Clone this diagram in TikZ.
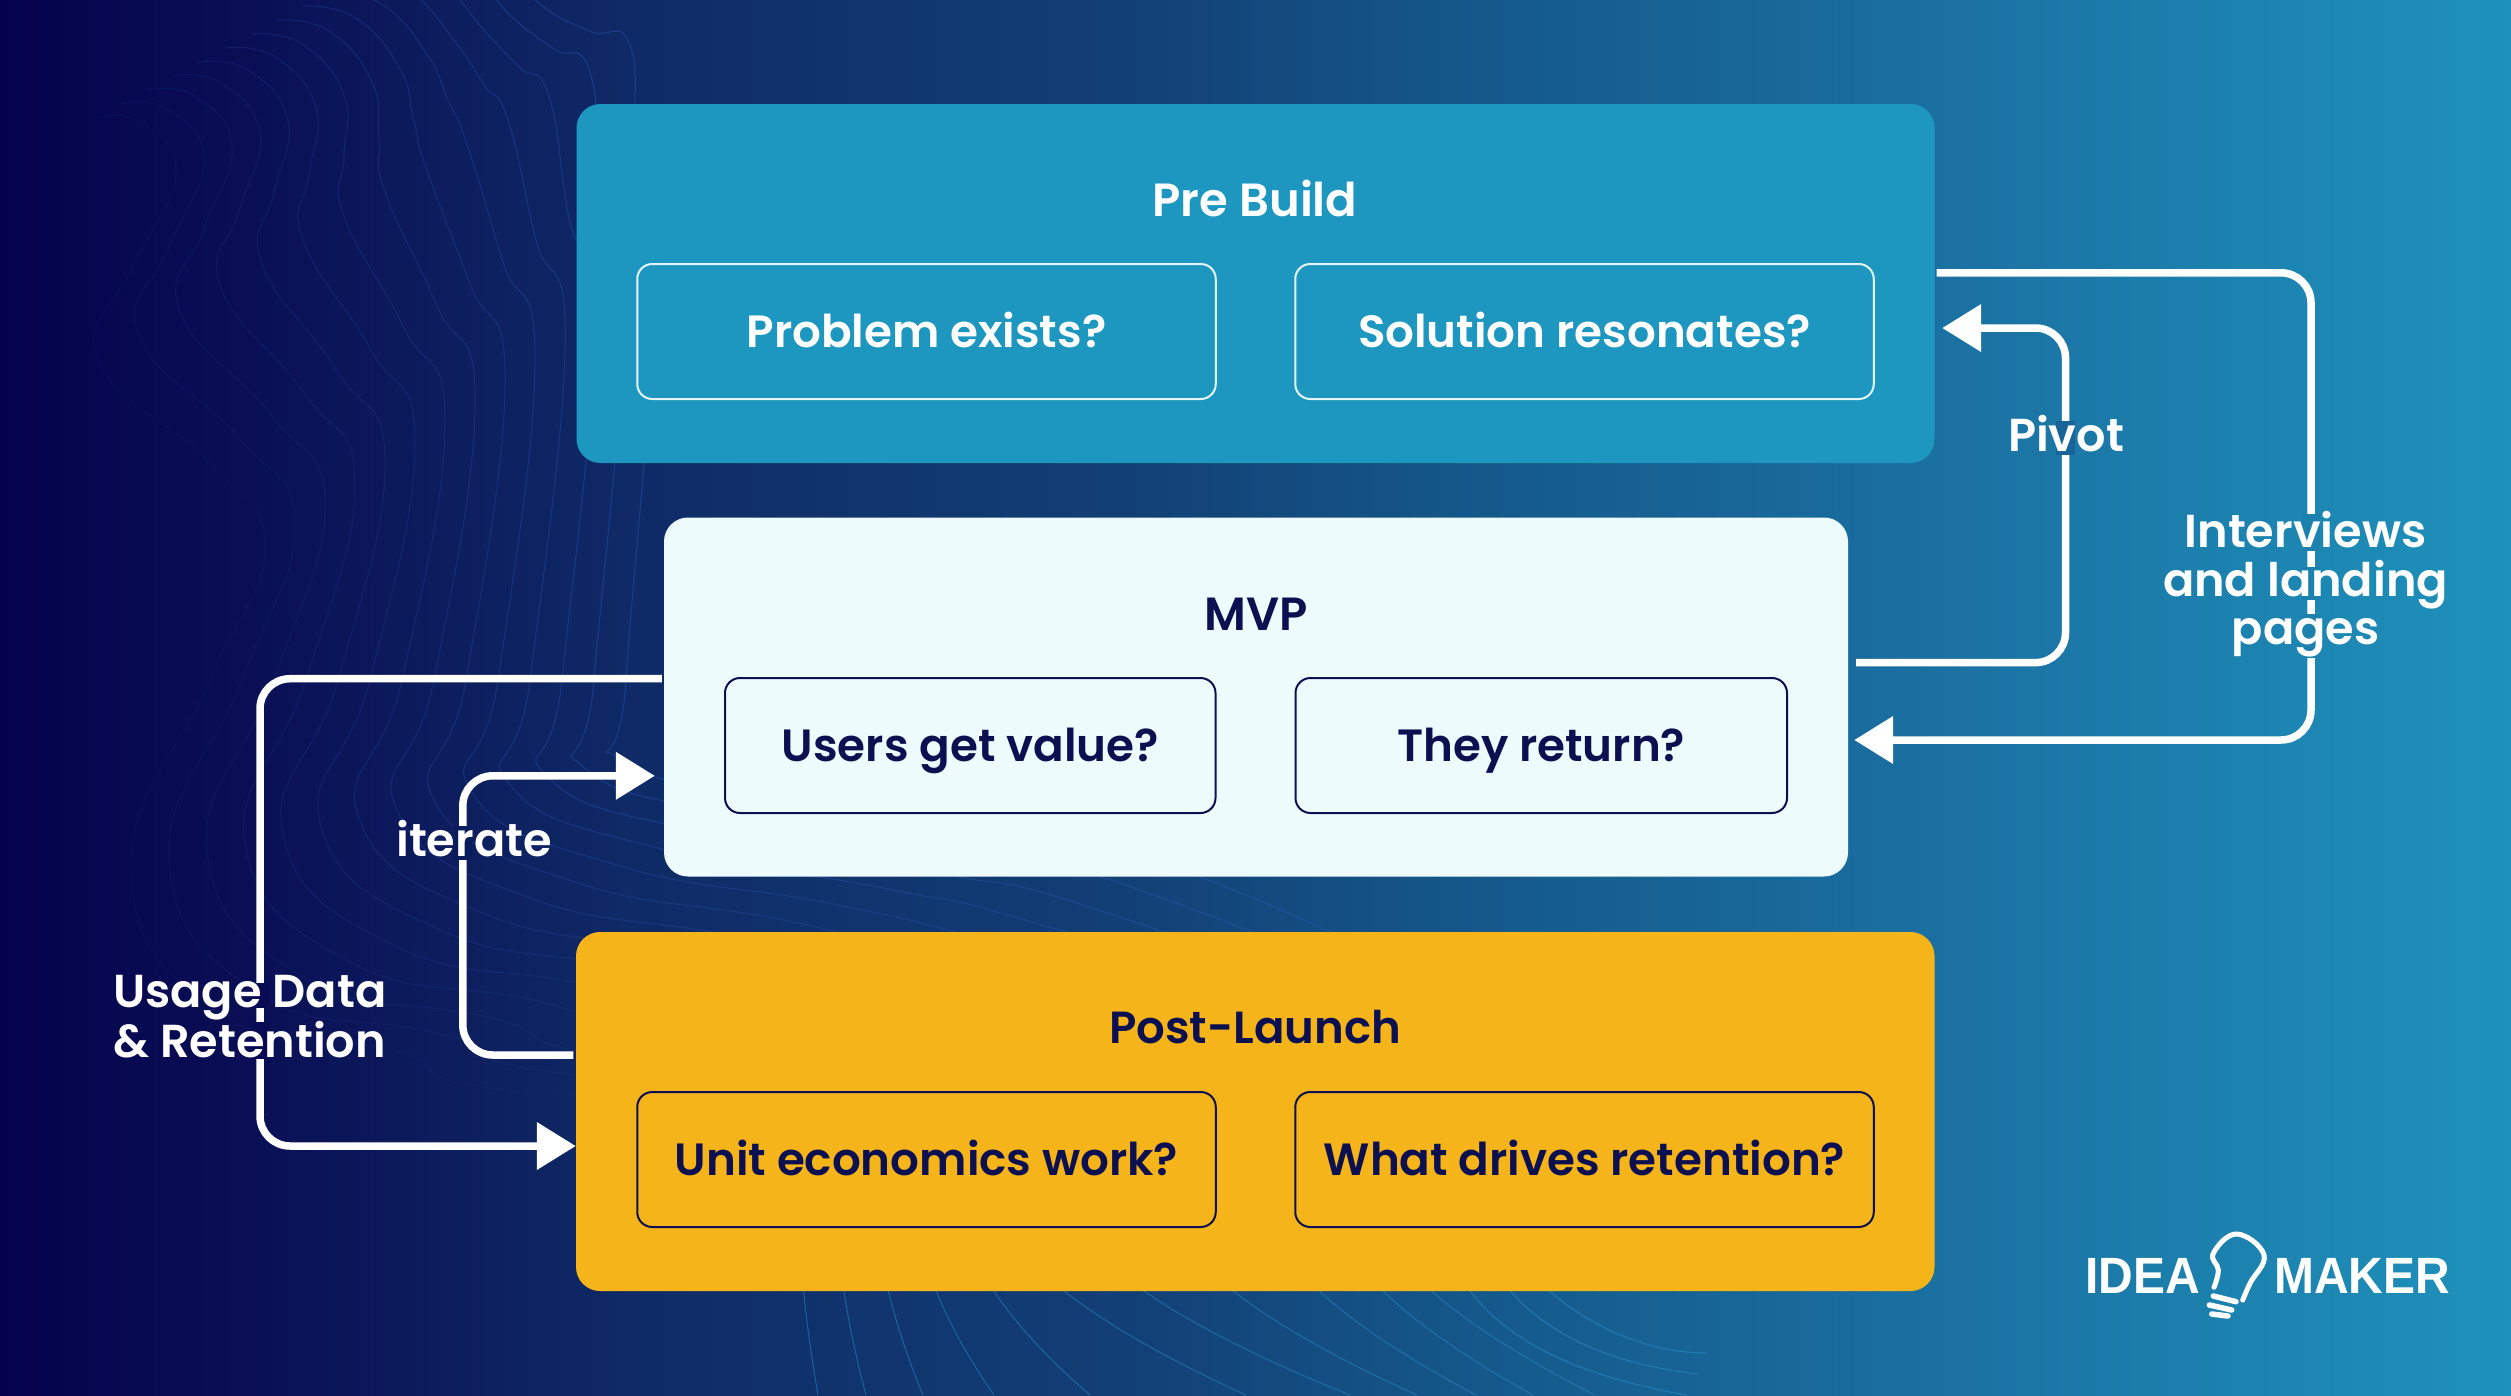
\documentclass[tikz,border=0pt]{standalone}
\usepackage{fontspec}
\usetikzlibrary{arrows.meta}
\setmainfont{Poppins}[UprightFont={* SemiBold},BoldFont={* Bold}]
\newfontfamily\logofont[FakeStretch=0.94]{Liberation Sans}
\definecolor{cA}{HTML}{04024C}\definecolor{cB}{HTML}{0A0F55}\definecolor{cC}{HTML}{0F2A66}
\definecolor{cD}{HTML}{124076}\definecolor{cE}{HTML}{155A8C}\definecolor{cF}{HTML}{1A6D9F}\definecolor{cG}{HTML}{1E92BB}
\definecolor{prefill}{HTML}{1D97BF}\definecolor{mvpfill}{HTML}{EEFBFD}\definecolor{postfill}{HTML}{F4B41A}
\definecolor{ink}{HTML}{0D1050}\definecolor{subline}{HTML}{E4F5F9}
\definecolor{gapA}{HTML}{186499}\definecolor{gapB}{HTML}{1C82AD}\definecolor{gapC}{HTML}{080A53}\definecolor{gapD}{HTML}{0B1C5C}
\definecolor{wave}{HTML}{2F63C8}\definecolor{waveB}{HTML}{2B8CCB}
\pgfdeclarehorizontalshading{bgshade}{100bp}{color(0bp)=(cA);color(25bp)=(cA);color(30bp)=(cB);color(37.5bp)=(cC);color(47.5bp)=(cD);color(55bp)=(cE);color(62.5bp)=(cF);color(75bp)=(cG);color(100bp)=(cG)}
\tikzset{
  bigbox/.style={rectangle,rounded corners=24pt,inner sep=0pt,minimum width=#1,minimum height=359pt},
  subbox/.style={rectangle,rounded corners=15pt,line width=2pt,inner sep=0pt,minimum width=#1,minimum height=135pt,
    font=\fontsize{45.2}{49}\selectfont,text height=31pt,text depth=0pt},
  title/.style={inner sep=0pt,font=\fontsize{46.5}{49}\selectfont,text height=31pt,text depth=0pt},
  conn/.style={draw=white,line width=7.5pt,rounded corners=30pt,line cap=butt,-{Triangle[length=39pt,width=46pt]}},
  lbl/.style={inner sep=0pt,text=white,font=\fontsize{46.2}{48.5}\selectfont},
  lwave/.style={line width=1pt,draw=wave},
}
\begin{document}
\begin{tikzpicture}[x=1pt,y=-1pt]
\useasboundingbox (0,0) rectangle (2511,1395);
\shade[shading=bgshade] (0,0) rectangle (2511,1395);
% contour lines
\begin{scope}
\clip (0,0) rectangle (2511,1395);
\foreach \k in {0,...,13}{
  \pgfmathsetmacro{\op}{0.08+0.022*\k}
  \draw[lwave,opacity=\op] plot[smooth,tension=0.8] coordinates {
    ({95+26*\k},{118-14*\k}) ({140+27*\k},{122-13*\k}) ({176+28*\k},{173-13*\k})
    ({134+35*\k},{265-18*\k}) ({98+41*\k},{360-24*\k})
    ({206+33*\k},{460-22*\k}) ({265+30*\k},{545-20*\k}) ({210+32*\k},{680})
    ({131+38*\k},{866-8*\k}) ({215+45*\k},{1010-16*\k})
    ({388+50*\k},{1049-16*\k}) ({576+50*\k},{1095-16*\k}) ({1300+30*\k},{1100})
  };
}
\foreach \a/\b in {803/818,843/866,887/923,934/994,990/1090,1057/1246,1136/1350,1226/1417,1313/1476,1377/1533,1425/1595}{
  \draw[line width=1pt,draw=waveB,opacity=.5] (\a,1285) .. controls ({\a+.25*(\b-\a)},1325) and ({\a+.65*(\b-\a)},1365) .. (\b,1395);
}
\draw[line width=1pt,draw=waveB,opacity=.6] (1466,1285) .. controls (1510,1350) and (1600,1380) .. (1687,1395);
\draw[line width=1pt,draw=waveB,opacity=.6] (1505,1285) .. controls (1550,1340) and (1620,1365) .. (1698,1374);
\draw[line width=1pt,draw=waveB,opacity=.6] (1543,1285) .. controls (1580,1320) and (1640,1353) .. (1707,1353);
\end{scope}
% boxes
\node[bigbox=1358pt,fill=prefill] (pre) at (1255.5,283.5) {};
\node[bigbox=1184pt,fill=mvpfill] (mvp) at (1256,697) {};
\node[bigbox=1358.5pt,fill=postfill] (post) at (1255.25,1111.5) {};
\node[title,text=white] (preT) at (1255,200.5) {Pre Build};
\node[title,text=ink] (mvpT) at (1256,614.5) {MVP};
\node[title,text=ink,font=\fontsize{45}{49}\selectfont] (postT) at (1255,1027.5) {Post-Launch};
\node[subbox=578.5pt,draw=subline,text=white] (s1) at (926.5,331.5) {Problem exists?};
\node[subbox=578.5pt,draw=subline,text=white] (s2) at (1584.5,331.5) {Solution resonates?};
\node[subbox=490.5pt,draw=ink,text=ink] (s3) at (970.25,745.5) {Users get value?};
\node[subbox=491.5pt,draw=ink,text=ink] (s4) at (1541.25,745.5) {They return?};
\node[subbox=578.5pt,draw=ink,text=ink] (s5) at (926.5,1159.5) {Unit economics work?};
\node[subbox=578.5pt,draw=ink,text=ink] (s6) at (1584.5,1159.5) {What drives retention?};
% connectors
\draw[conn] ([xshift=2pt,yshift=10.7pt]pre.east) -- (2311,272.8) -- (2311,740) -- ([xshift=6pt,yshift=-43pt]mvp.east);
\draw[conn] ([xshift=8pt,yshift=34.4pt]mvp.east) -- (2065.5,662.6) -- (2065.5,328) -- ([xshift=7.5pt,yshift=-44.5pt]pre.east);
\draw[conn] ([xshift=-2pt,yshift=18.3pt]mvp.west) -- (260,678.7) -- (260,1146) -- ([yshift=-34.5pt]post.west);
\draw[conn] ([xshift=-2.5pt,yshift=56.5pt]post.west) -- (462.8,1055) -- (462.8,775.8) -- ([xshift=-9pt,yshift=-78.8pt]mvp.west);
% gaps round the labels
\fill[gapA] (2056,421) rectangle (2075,454.6);
\fill[gapB] (2302,514) rectangle (2320,551);
\fill[gapB] (2302,567) rectangle (2320,600);
\fill[gapB] (2302,614) rectangle (2320,658);
\fill[gapC] (251,983) rectangle (269,1008);
\fill[gapC] (251,1022) rectangle (269,1059);
\fill[gapD] (454,826) rectangle (472,860);
% labels
\node[lbl,text height=31pt,text depth=0pt] (lPivot) at (2066,435.5) {Pivot};
\node[lbl,align=center] (lInt) at (2305.5,584.5) {Interviews\\and landing\\pages};
\node[lbl,align=left,anchor=west] (lUse) at (113,1016.5) {Usage Data\\\& Retention};
\node[lbl,text height=31pt,text depth=0pt] (lIter) at (474,841) {iterate};
% logo
\node[inner sep=0pt,anchor=base east,text=white,font=\logofont\bfseries\fontsize{51}{51}\selectfont] (logoA) at (2200,1293.3) {IDEA};
\node[inner sep=0pt,anchor=base west,text=white,font=\logofont\bfseries\fontsize{51}{51}\selectfont] (logoB) at (2274,1293.3) {MAKER};
\draw[white,line width=5pt,line cap=round] plot[smooth,tension=0.7] coordinates {(2214,1287.3) (2218.3,1270) (2213.3,1253.3) (2236.7,1234) (2264,1255) (2250,1283.3) (2242.7,1300)};
\draw[white,line width=5.5pt,line cap=round] (2213.3,1296) -- (2236,1301.7);
\draw[white,line width=5.5pt,line cap=round] (2209.3,1305) -- (2231.7,1310);
\draw[white,line width=5.5pt,line cap=round] (2211.7,1314) -- (2228,1316);
\end{tikzpicture}
\end{document}
